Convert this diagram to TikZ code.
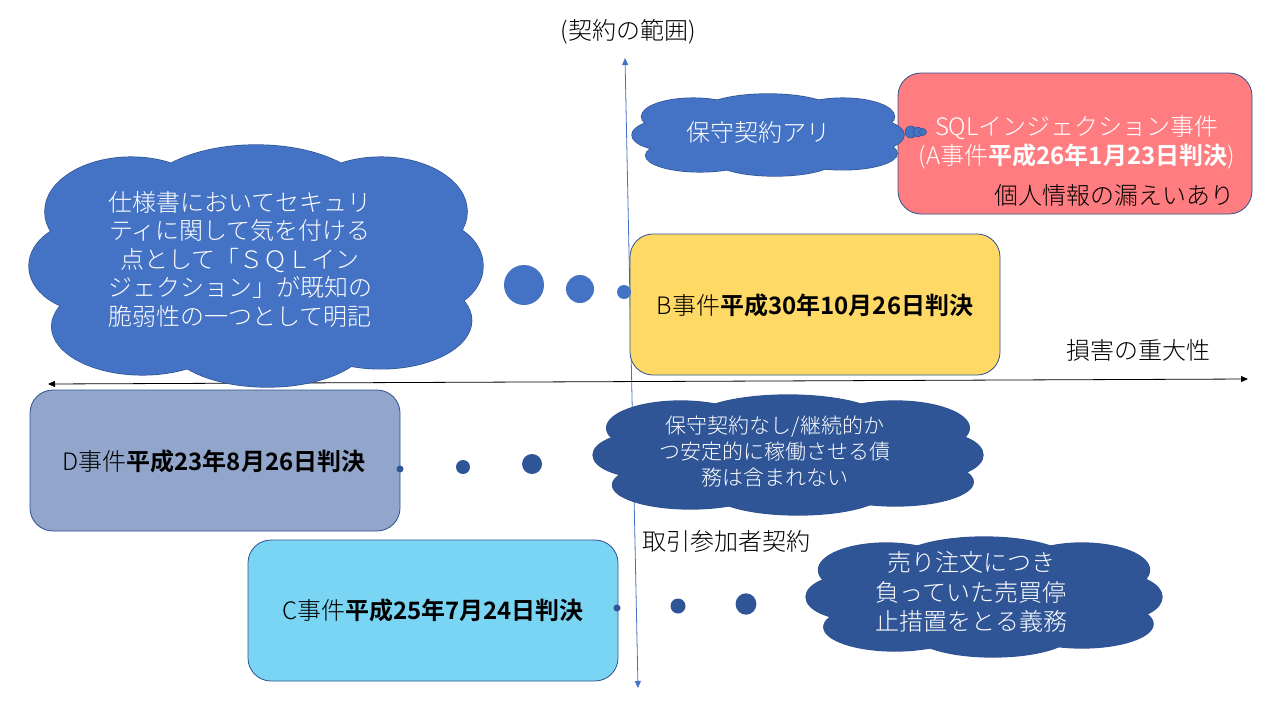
\documentclass[tikz,border=0pt]{standalone}
\usepackage{fontspec}
\setmainfont{Noto Sans CJK JP}[UprightFont={* Light}, BoldFont={* Bold}]
\usetikzlibrary{arrows.meta}
\definecolor{upblue}{HTML}{4472C4}
\definecolor{lowblue}{HTML}{2F5597}
\definecolor{edge}{HTML}{2F528F}
\definecolor{Afill}{HTML}{FF7C80}
\definecolor{Bfill}{HTML}{FFD966}
\definecolor{Cfill}{HTML}{7AD5F5}
\definecolor{Dfill}{HTML}{91A6CA}
\tikzset{
  casebox/.style={draw=edge, line width=0.8pt, rounded corners=23pt, inner sep=0pt},
  bigtxt/.style={font=\fontsize{24}{29}\selectfont, align=center, inner sep=0pt},
  midtxt/.style={font=\fontsize{21}{26}\selectfont, align=center, inner sep=0pt},
  axisarrow/.style={line width=0.8pt, {Triangle[length=7pt,width=6pt]}-{Triangle[length=7pt,width=6pt]}}
}
% lobes of a cloud in a [-1,1]x[-1,1] box: cx/cy/rx/ry
\newcommand{\lobelist}{-0.55/0.45/0.38/0.45, 0/0.55/0.5/0.45, 0.55/0.45/0.38/0.45, -0.72/0/0.28/0.38, 0.75/0/0.25/0.38, -0.5/-0.5/0.4/0.4, 0.05/-0.6/0.45/0.4, 0.55/-0.45/0.4/0.4, 0/0/0.7/0.6}
\newcommand{\drawcloud}[5]{%
  \begin{scope}[xshift=#1pt, yshift=-#2pt, x=#3pt, y=#4pt]
    \foreach \lx/\ly/\lr/\ls in \lobelist {\filldraw[fill=#5, draw=edge, line width=1.3pt] (\lx,\ly) ellipse [x radius=\lr, y radius=\ls];}
    \foreach \lx/\ly/\lr/\ls in \lobelist {\fill[#5] (\lx,\ly) ellipse [x radius=\lr, y radius=\ls];}
  \end{scope}}
\begin{document}
\begin{tikzpicture}[x=1pt,y=-1pt]
\useasboundingbox (0,0) rectangle (1280,720);
% axes
\coordinate (vtop) at (625,58);
\coordinate (vbot) at (638,688);
\draw[upblue, axisarrow] (vbot) -- (vtop);
\coordinate (hl) at (48,384);
\coordinate (hr) at (1248,379);
\draw[black, axisarrow] (hl) -- (hr);
% axis labels
\node[bigtxt] (title) at (628,32) {(契約の範囲)};
\node[bigtxt] (sev) at (1138,350) {損害の重大性};
\node[bigtxt] (torihiki) at (726,541) {取引参加者契約};
% boxes
\node[casebox, fill=Afill, minimum width=354pt, minimum height=141pt] (A) at (1075,143.5) {};
\node[casebox, fill=Bfill, minimum width=370pt, minimum height=141pt] (B) at (815,304.5) {};
\node[casebox, fill=Dfill, minimum width=370pt, minimum height=141pt] (D) at (215,460.5) {};
\node[casebox, fill=Cfill, minimum width=370pt, minimum height=141pt] (C) at (433,610.5) {};
% box texts
\node[bigtxt, text=white] (Atxt) at (1077,142) {SQLインジェクション事件\\(A事件\textbf{平成26年1月23日判決})};
\node[bigtxt] (Anote) at (1114,195) {個人情報の漏えいあり};
\node[bigtxt] (Btxt) at (815,305) {B事件\textbf{平成30年10月26日判決}};
\node[bigtxt] (Dtxt) at (214,461) {D事件\textbf{平成23年8月26日判決}};
\node[bigtxt] (Ctxt) at (433,610) {C事件\textbf{平成25年7月24日判決}};
% clouds
\drawcloud{256}{266}{227}{121}{upblue}
\drawcloud{768}{135}{136}{41}{upblue}
\drawcloud{788}{455}{195}{60}{lowblue}
\drawcloud{984}{597}{178}{60}{lowblue}
% cloud texts
\node[bigtxt, text=white, font=\fontsize{24}{28.5}\selectfont] (Ltxt) at (240,259) {仕様書においてセキュリ\\ティに関して気を付ける\\点として「ＳＱＬイン\\ジェクション」が既知の\\脆弱性の一つとして明記};
\node[bigtxt, text=white] (cAtxt) at (758,132) {保守契約アリ};
\node[midtxt, text=white] (cDtxt) at (775,451) {保守契約なし/継続的か\\つ安定的に稼働させる債\\務は含まれない};
\node[bigtxt, text=white, font=\fontsize{24}{29.5}\selectfont] (cCtxt) at (971,592) {売り注文につき\\負っていた売買停\\止措置をとる義務};
% thought bubbles
\fill[upblue] (524,285) circle (20pt);
\fill[upblue] (580,289) circle (14pt);
\fill[upblue] (624,292) circle (7pt);
\fill[lowblue] (400,469) circle (3.5pt);
\fill[lowblue] (463,467) circle (7pt);
\fill[lowblue] (532,464) circle (10pt);
\fill[lowblue] (617,608) circle (3.5pt);
\fill[lowblue] (678,606) circle (7.5pt);
\fill[lowblue] (746,604) ellipse (10.4pt and 10.7pt);
\filldraw[fill=upblue, draw=edge, line width=0.5pt] (911,132) circle (6pt);
\filldraw[fill=upblue, draw=edge, line width=0.5pt] (918,132) circle (5pt);
\filldraw[fill=upblue, draw=edge, line width=0.5pt] (923,132) circle (3.5pt);
\end{tikzpicture}
\end{document}
